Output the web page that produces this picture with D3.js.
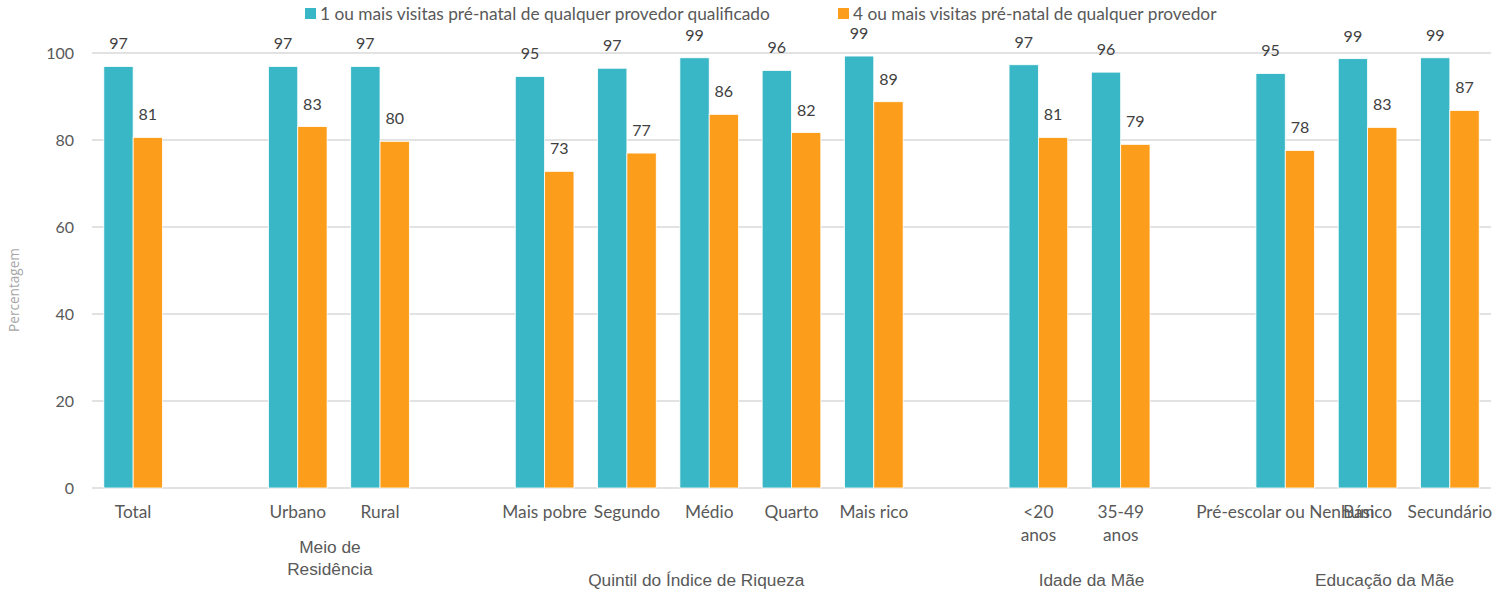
<!DOCTYPE html>
<html>
<head>
<meta charset="utf-8">
<script src="https://cdn.jsdelivr.net/npm/d3@7"></script>
<style>
  html, body { margin: 0; padding: 0; background: #ffffff; }
  svg { display: block; }
</style>
</head>
<body>
<script>
// ---------- data ----------
const categories = ["Total", "Urbano", "Rural", "Mais pobre", "Segundo", "Médio", "Quarto", "Mais rico",
  "<20 anos", "35-49 anos", "Pré-escolar ou Nenhum", "Básico", "Secundário"];
const categoryLines = [["Total"], ["Urbano"], ["Rural"], ["Mais pobre"], ["Segundo"], ["Médio"], ["Quarto"], ["Mais rico"],
  ["<20", "anos"], ["35-49", "anos"], ["Pré-escolar ou Nenhum"], ["Básico"], ["Secundário"]];
const categoryGroup = [0, 1, 1, 2, 2, 2, 2, 2, 3, 3, 4, 4, 4];
const groupNames = ["", "Meio de Residência", "Quintil do Índice de Riqueza", "Idade da Mãe", "Educação da Mãe"];
const groupLines = [[], ["Meio de", "Residência"], ["Quintil do Índice de Riqueza"], ["Idade da Mãe"], ["Educação da Mãe"]];

const seriesNames = ["1 ou mais visitas pré-natal de qualquer provedor qualificado",
  "4 ou mais visitas pré-natal de qualquer provedor"];
const series1 = [96.9, 96.9, 96.9, 94.6, 96.5, 98.9, 96.0, 99.3, 97.3, 95.6, 95.3, 98.7, 98.9];
const series2 = [80.6, 83.1, 79.7, 72.8, 77.0, 85.9, 81.7, 88.8, 80.6, 79.0, 77.6, 82.9, 86.8];
const yTicks = [0, 20, 40, 60, 80, 100];
const yTitle = "Percentagem";
const colors = ["#3ab7c6", "#fc9e1b"];

// ---------- layout ----------
const W = 1510, H = 595;
const plotLeft = 92, plotRight = 1491, plotTop = 53, plotBottom = 488;
const mainFont = "Lato, 'Open Sans', sans-serif";

const svg = d3.select("body").append("svg").attr("width", W).attr("height", H);

const slots = [];
categories.forEach((c, i) => {
  if (i > 0 && categoryGroup[i] !== categoryGroup[i - 1]) slots.push("gap" + i);
  slots.push(c);
});

const x0 = d3.scaleBand().domain(slots).range([plotLeft, plotRight]).paddingInner(0.287).paddingOuter(0.1435);
const x1 = d3.scaleBand().domain([0, 1]).range([0, x0.bandwidth()]);
const y = d3.scaleLinear().domain([0, 100]).range([plotBottom, plotTop]);

// gridlines
svg.append("g").selectAll("line").data(yTicks).join("line")
  .attr("x1", plotLeft).attr("x2", plotRight)
  .attr("y1", d => y(d)).attr("y2", d => y(d))
  .attr("stroke", "#d9d9d9").attr("stroke-width", 1.3);

// y axis labels
const yAxis = d3.axisLeft(y).tickValues(yTicks).tickSize(0).tickPadding(0).tickFormat(d3.format("d"));
const ya = svg.append("g").attr("transform", `translate(${plotLeft - 18},0)`).call(yAxis);
ya.select(".domain").remove();
ya.selectAll("text").attr("font-family", mainFont).attr("font-size", 16)
  .attr("fill", "#595959").attr("dy", "0.35em");

// y title
svg.append("text").attr("transform", `translate(19,290) rotate(-90)`)
  .attr("text-anchor", "middle").attr("font-family", "'Open Sans', sans-serif").attr("font-size", 13.6)
  .attr("fill", "#a6a6a6").text(yTitle);

// bars
const rows = categories.map((c, i) => ({ c, vals: [series1[i], series2[i]] }));
const gCat = svg.append("g").selectAll("g").data(rows).join("g")
  .attr("transform", d => `translate(${x0(d.c)},0)`);

gCat.selectAll("rect").data(d => d.vals.map((v, k) => ({ v, k }))).join("rect")
  .attr("x", d => x1(d.k)).attr("width", x1.bandwidth())
  .attr("y", d => y(d.v)).attr("height", d => y(0) - y(d.v))
  .attr("fill", d => colors[d.k]).attr("stroke", "#ffffff").attr("stroke-width", 0.8);

gCat.selectAll("text.val").data(d => d.vals.map((v, k) => ({ v, k }))).join("text")
  .attr("class", "val")
  .attr("x", d => x1(d.k) + x1.bandwidth() / 2).attr("y", d => y(d.v) - 17)
  .attr("text-anchor", "middle").attr("font-family", mainFont).attr("font-size", 16)
  .attr("fill", "#404040").text(d => d3.format(".0f")(d.v));

// category labels
const catLab = svg.append("g").selectAll("text").data(categories).join("text")
  .attr("text-anchor", "middle")
  .attr("font-family", mainFont).attr("font-size", 17.3).attr("fill", "#595959")
  .attr("transform", d => `translate(${x0(d) + x0.bandwidth() / 2},518)`);
catLab.selectAll("tspan").data((d, i) => categoryLines[i]).join("tspan")
  .attr("x", 0).attr("dy", (d, j) => j === 0 ? 0 : 23).text(d => d);

// group labels
const groupOffsets = [0, -9, -13, 12, 17];
const groupData = groupNames.map((g, gi) => {
  const members = categories.filter((c, i) => categoryGroup[i] === gi);
  const cx = d3.mean(members, c => x0(c) + x0.bandwidth() / 2) + groupOffsets[gi];
  return { g, gi, cx, lines: groupLines[gi] };
}).filter(d => d.g !== "");

const grpLab = svg.append("g").selectAll("text").data(groupData).join("text")
  .attr("text-anchor", "middle")
  .attr("font-family", "'Liberation Sans', Arial, sans-serif").attr("font-size", 17.3).attr("fill", "#595959")
  .attr("transform", d => `translate(${d.cx},${d.lines.length > 1 ? 553 : 586})`);
grpLab.selectAll("tspan").data(d => d.lines).join("tspan")
  .attr("x", 0).attr("dy", (d, j) => j === 0 ? 0 : 21.5).text(d => d);

// legend
const legendX = [305, 838];
const leg = svg.append("g").selectAll("g").data(seriesNames).join("g")
  .attr("transform", (d, i) => `translate(${legendX[i]},8)`);
leg.append("rect").attr("width", 11).attr("height", 11).attr("fill", (d, i) => colors[i]);
leg.append("text").attr("x", 15).attr("y", 12).attr("font-family", mainFont)
  .attr("font-size", 17.3).attr("fill", "#595959").text(d => d);
</script>
</body>
</html>
